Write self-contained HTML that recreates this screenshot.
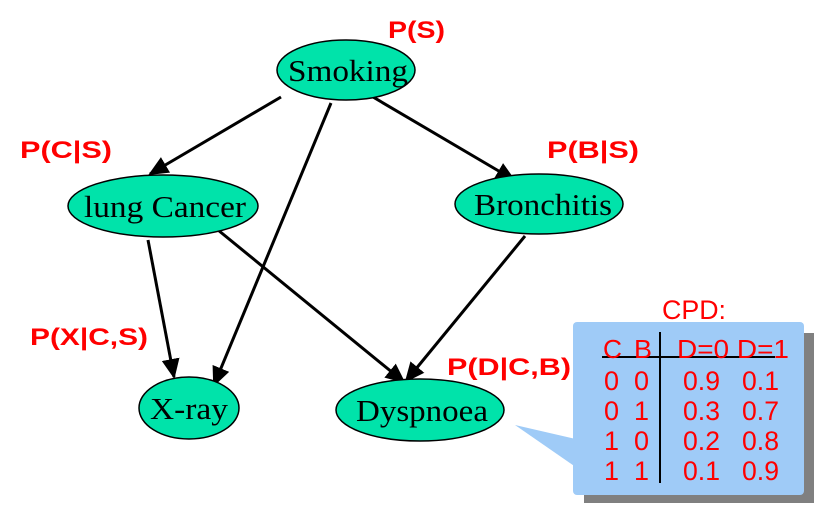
<!DOCTYPE html>
<html><head><style>html,body{margin:0;padding:0;background:#fff}svg{display:block}</style></head>
<body>
<svg width="830" height="511" viewBox="0 0 830 511" xmlns="http://www.w3.org/2000/svg">
<defs>
<marker id="m" markerWidth="20" markerHeight="18" refX="18" refY="9" orient="auto" markerUnits="userSpaceOnUse"><path d="M0,0 L20,9 L0,18 z" fill="#000"/></marker></defs>
<g stroke="#000" stroke-width="3" fill="none" marker-end="url(#m)">
<line x1="281" y1="97" x2="150" y2="174"/>
<line x1="331" y1="103" x2="214" y2="385"/>
<line x1="373" y1="97" x2="514" y2="180"/>
<line x1="148" y1="240" x2="174" y2="377"/>
<line x1="218" y1="230" x2="404" y2="382"/>
<line x1="525" y1="236" x2="406" y2="381"/>
</g>
<g fill="#00e3aa" stroke="#000" stroke-width="1.5">
<ellipse cx="346" cy="70" rx="69" ry="30"/>
<ellipse cx="163" cy="206" rx="95" ry="31"/>
<ellipse cx="539" cy="204" rx="84" ry="30"/>
<ellipse cx="189" cy="408" rx="50" ry="31"/>
<ellipse cx="420" cy="410" rx="84" ry="31"/>
</g>
<g font-family="Liberation Serif, serif" font-size="31" fill="#000">
<text x="288" y="81" textLength="120" lengthAdjust="spacingAndGlyphs">Smoking</text>
<text x="84" y="217" textLength="162" lengthAdjust="spacingAndGlyphs">lung Cancer</text>
<text x="474" y="215" textLength="138" lengthAdjust="spacingAndGlyphs">Bronchitis</text>
<text x="150" y="419" textLength="78" lengthAdjust="spacingAndGlyphs">X-ray</text>
<text x="356" y="421" textLength="132" lengthAdjust="spacingAndGlyphs">Dyspnoea</text>
</g>
<g font-family="Liberation Sans, sans-serif" font-weight="bold" font-size="24" fill="#f00">
<text x="388" y="38" textLength="57" lengthAdjust="spacingAndGlyphs">P(S)</text>
<text x="20" y="158" textLength="92" lengthAdjust="spacingAndGlyphs">P(C|S)</text>
<text x="547" y="158" textLength="92" lengthAdjust="spacingAndGlyphs">P(B|S)</text>
<text x="30" y="345" textLength="118" lengthAdjust="spacingAndGlyphs">P(X|C,S)</text>
<text x="447" y="375" textLength="124" lengthAdjust="spacingAndGlyphs">P(D|C,B)</text>
</g>
<rect x="584" y="333" width="230" height="170" fill="#808080"/>
<path d="M515,425 L580,440 L580,470 Z" fill="#9fcbf7"/>
<rect x="573" y="322" width="231" height="173" rx="4" fill="#9fcbf7"/>
<text x="662" y="319" font-family="Liberation Sans, sans-serif" font-size="27" fill="#f00" textLength="64" lengthAdjust="spacingAndGlyphs">CPD:</text>
<line x1="660" y1="332" x2="660" y2="483" stroke="#000" stroke-width="2"/>
<line x1="602" y1="357" x2="775" y2="357" stroke="#000" stroke-width="2"/>
<g font-family="Liberation Sans, sans-serif" font-size="26" fill="#f00">
<text x="603" y="358" textLength="19" lengthAdjust="spacingAndGlyphs">C</text><text x="634" y="358" textLength="18" lengthAdjust="spacingAndGlyphs">B</text><text x="677" y="358" textLength="112" lengthAdjust="spacingAndGlyphs">D=0 D=1</text>
<g font-size="27">
<text x="604" y="390">0</text><text x="634" y="390">0</text><text x="683" y="390" textLength="37" lengthAdjust="spacingAndGlyphs">0.9</text><text x="742" y="390" textLength="37" lengthAdjust="spacingAndGlyphs">0.1</text>
<text x="604" y="420">0</text><text x="634" y="420">1</text><text x="683" y="420" textLength="37" lengthAdjust="spacingAndGlyphs">0.3</text><text x="742" y="420" textLength="37" lengthAdjust="spacingAndGlyphs">0.7</text>
<text x="604" y="450">1</text><text x="634" y="450">0</text><text x="683" y="450" textLength="37" lengthAdjust="spacingAndGlyphs">0.2</text><text x="742" y="450" textLength="37" lengthAdjust="spacingAndGlyphs">0.8</text>
<text x="604" y="480">1</text><text x="634" y="480">1</text><text x="683" y="480" textLength="37" lengthAdjust="spacingAndGlyphs">0.1</text><text x="742" y="480" textLength="37" lengthAdjust="spacingAndGlyphs">0.9</text>
</g></g>
</svg>
</body></html>
